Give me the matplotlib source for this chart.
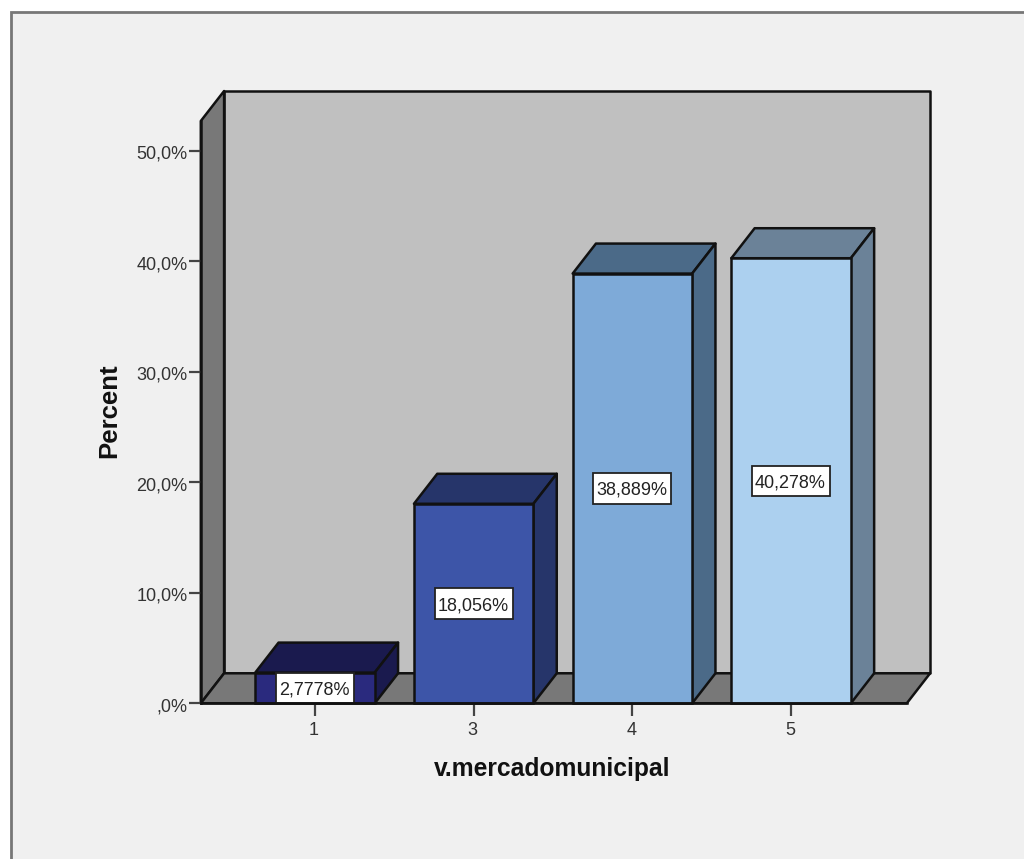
import matplotlib
matplotlib.use("Agg")
import matplotlib.pyplot as plt
from matplotlib.patches import Polygon, Rectangle
from matplotlib.transforms import ScaledTranslation

plt.rcParams['font.family'] = ['Liberation Sans', 'DejaVu Sans']

categories = ['1', '3', '4', '5']
values = [2.7778, 18.056, 38.889, 40.278]
value_labels = ['2,7778%', '18,056%', '38,889%', '40,278%']
y_ticks = [0, 10, 20, 30, 40, 50]
y_tick_labels = [',0%', '10,0%', '20,0%', '30,0%', '40,0%', '50,0%']
front_colors = ['#2a2a7e', '#3d55a8', '#7eaad8', '#acd0ef']
shade_colors = ['#1a1a4e', '#26356a', '#4b6a88', '#6b8298']

W, H = 1024, 859
fig = plt.figure(figsize=(W / 100, H / 100), dpi=100, facecolor='white')

# Chart panel: its right and bottom edges run off the canvas
fig.add_artist(Rectangle((10.5 / W, 1 - 12 / H), 1.0, -1.0, transform=fig.transFigure,
                         facecolor='#f0f0f0', edgecolor='#777777', linewidth=2,
                         clip_on=False, zorder=-1))

left, right, bottom, top = 200.8, 906.8, 703.3, 121
ax = fig.add_axes([left / W, 1 - bottom / H, (right - left) / W, (bottom - top) / H])
ax.patch.set_visible(False)

px_x = 158.7
px_y = 11.05
x0 = -(315 - left) / px_x
x1 = x0 + (right - left) / px_x
y1 = (bottom - top) / px_y
ax.set_xlim(x0, x1)
ax.set_ylim(0, y1)

# Oblique depth of the box, in data units
dx = 23.3 / px_x
dy = 30 / px_y
wall_lw = 1.8


def face(points, color, z):
    ax.add_patch(Polygon(points, closed=True, facecolor=color, edgecolor='#111111',
                         linewidth=wall_lw, joinstyle='round', clip_on=False, zorder=z))


# Back wall, side wall and floor
face([(x0 + dx, dy), (x1 + dx, dy), (x1 + dx, y1 + dy), (x0 + dx, y1 + dy)], '#c0c0c0', 1)
face([(x0, 0), (x0 + dx, dy), (x0 + dx, y1 + dy), (x0, y1)], '#787878', 1.1)
face([(x0, 0), (x1, 0), (x1 + dx, dy), (x0 + dx, dy)], '#787878', 1.2)

# Bars: front face plus shaded top and side
bar_w = 119.5 / px_x
positions = list(range(len(categories)))
ax.bar(positions, values, width=bar_w, color=front_colors, edgecolor='#111111',
       linewidth=wall_lw, zorder=3, clip_on=False)
for pos, val, shade in zip(positions, values, shade_colors):
    xl, xr = pos - bar_w / 2, pos + bar_w / 2
    face([(xl, val), (xr, val), (xr + dx, val + dy), (xl + dx, val + dy)], shade, 2.5)
    face([(xr, 0), (xr + dx, dy), (xr + dx, val + dy), (xr, val)], shade, 2.5)

# Value labels in fixed-size white boxes at each bar's mid-height
box_w = 78 / px_x
box_h = 30.5 / px_y
text_nudge = ScaledTranslation(-1 / 100, -2 / 100, fig.dpi_scale_trans)
for pos, val, text in zip(positions, values, value_labels):
    ax.add_patch(Rectangle((pos - box_w / 2, val / 2 - box_h / 2), box_w, box_h,
                           facecolor='white', edgecolor='#222222', linewidth=1.3,
                           clip_on=False, zorder=3.5))
    ax.text(pos, val / 2, text, ha='center', va='center', fontsize=13, color='#222222',
            zorder=5, clip_on=False, transform=ax.transData + text_nudge)

for side in ('top', 'right'):
    ax.spines[side].set_visible(False)
for side in ('left', 'bottom'):
    ax.spines[side].set_linewidth(wall_lw)
    ax.spines[side].set_color('#111111')
    ax.spines[side].set_zorder(4)

ax.set_xticks(positions, categories)
ax.set_yticks(y_ticks, y_tick_labels)
ax.tick_params(axis='both', length=9, width=1.6, color='#444444', labelsize=13,
               labelcolor='#333333', pad=0.5)
ax.tick_params(axis='x', pad=4.5)

# Tick labels sit slightly off their ticks
for label in ax.get_yticklabels():
    label.set_transform(label.get_transform() + ScaledTranslation(0, -1.5 / 100, fig.dpi_scale_trans))
for label in ax.get_xticklabels():
    label.set_transform(label.get_transform() + ScaledTranslation(-1 / 100, 0, fig.dpi_scale_trans))

ax.set_xlabel('v.mercadomunicipal', fontsize=17.7, fontweight='bold', color='#111111')
ax.set_ylabel('Percent', fontsize=18.5, fontweight='bold', color='#111111')
ax.xaxis.set_label_coords((552.5 - left) / (right - left), (bottom - 769) / (bottom - top))
ax.yaxis.set_label_coords((109 - left) / (right - left), (bottom - 411) / (bottom - top))
ax.xaxis.label.set_verticalalignment('center')
ax.yaxis.label.set_verticalalignment('center')

fig.savefig('out.png', dpi=100, facecolor=fig.get_facecolor())
